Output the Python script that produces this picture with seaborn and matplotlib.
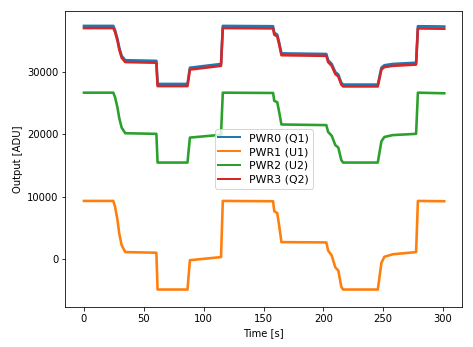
import matplotlib
matplotlib.use("Agg")
import matplotlib.pyplot as plt
import seaborn as sns
import pandas as pd

# Breakpoint times [s] shared by all channels
time_s = [0, 24.5, 26, 28, 29.5, 31.5, 34.5, 60.5, 61.5, 86.5, 88.5, 114.5, 116,
          158, 159, 161.5, 163, 165, 202.5, 204, 207, 210, 212.5, 215, 216.5,
          245.5, 248.5, 251, 258, 277.5, 279, 301]

pwr0_q1 = [37400, 37400, 36700, 35300, 33900, 32600, 31900, 31800, 28100, 28100,
           30700, 31300, 37400, 37350, 36300, 36000, 34800, 33000, 32900, 31900,
           31300, 30000, 29600, 28300, 28000, 28000, 30700, 31100, 31300, 31500,
           37350, 37300]
pwr1_u1 = [9350, 9350, 8400, 6300, 4100, 2250, 1150, 1050, -4850, -4850,
           -150, 350, 9350, 9300, 7700, 7400, 5500, 2750, 2700, 1400,
           600, -1300, -1800, -4400, -4850, -4850, -600, 400, 800, 1150,
           9350, 9300]
pwr2_u2 = [26700, 26700, 25950, 24300, 22600, 21100, 20200, 20100, 15500, 15500,
           19500, 19950, 26700, 26650, 25400, 25150, 23700, 21600, 21500, 20400,
           19800, 18300, 17900, 15900, 15500, 15500, 18900, 19600, 19900, 20100,
           26700, 26600]
pwr3_q2 = [37050, 37050, 36400, 35000, 33600, 32300, 31600, 31500, 27750, 27750,
           30400, 31000, 37050, 37000, 36000, 35700, 34500, 32700, 32600, 31600,
           31000, 29700, 29300, 28000, 27700, 27700, 30400, 30800, 31000, 31200,
           37000, 36950]

labels = ["PWR0 (Q1)", "PWR1 (U1)", "PWR2 (U2)", "PWR3 (Q2)"]
series = [pwr0_q1, pwr1_u1, pwr2_u2, pwr3_q2]

frames = []
for lab, vals in zip(labels, series):
    frames.append(pd.DataFrame({"Time [s]": time_s, "Output [ADU]": vals, "channel": lab}))
df = pd.concat(frames, ignore_index=True)

plt.rcParams.update(plt.rcParamsDefault)
plt.rcParams['font.family'] = ['DejaVu Sans']
plt.rcParams['font.size'] = 10

fig = plt.figure(figsize=(473/72, 347/72), dpi=72)
ax = fig.add_axes([65.3/473, 1 - 306.7/347, (462.3-65.3)/473, (306.7-11.3)/347])

palette = ["#1f77b4", "#ff7f0e", "#2ca02c", "#d62728"]
sns.lineplot(data=df, x="Time [s]", y="Output [ADU]", hue="channel",
             hue_order=labels, palette=palette, estimator=None, sort=False,
             linewidth=2.6, ax=ax)

ax.set_xlim(-15.6, 316.1)
ax.set_ylim(-7600, 39740)
ax.set_xticks([0, 50, 100, 150, 200, 250, 300])
ax.set_yticks([0, 10000, 20000, 30000])
ax.set_xlabel("Time [s]")
ax.set_ylabel("Output [ADU]")
leg = ax.legend(loc="center", fontsize=11, labelspacing=0.35, borderpad=0.35)
for line in leg.get_lines():
    line.set_linewidth(2.0)

fig.savefig("out.png", dpi=72)
